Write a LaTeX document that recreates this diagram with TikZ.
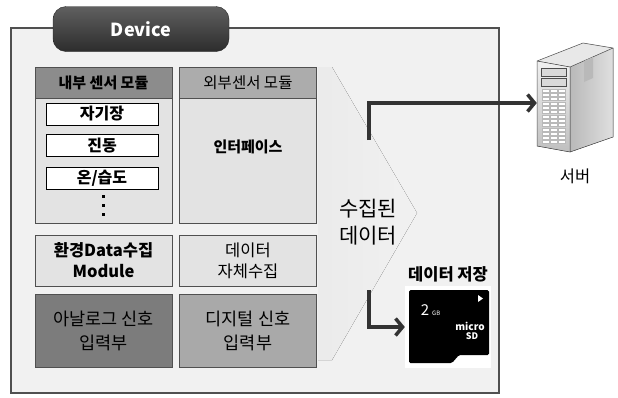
\documentclass[tikz,border=0pt]{standalone}
\usepackage{fontspec}
\setmainfont{Noto Sans CJK KR}
\usetikzlibrary{positioning, arrows.meta}

\definecolor{boxbg}{HTML}{F1F1F1}
\definecolor{framegray}{HTML}{505050}
\definecolor{headdark}{HTML}{8C8C8C}
\definecolor{headlight}{HTML}{ACACAC}
\definecolor{bodygray}{HTML}{E3E3E3}
\definecolor{analoggray}{HTML}{7C7C7C}
\definecolor{digitalgray}{HTML}{A9A9A9}
\definecolor{flowgray}{HTML}{333333}

\begin{document}
\begin{tikzpicture}[x=1pt, y=-1pt,
  every node/.style={inner sep=0pt, font=\fontsize{14}{22}\selectfont},
  panel/.style={draw=framegray, line width=0.8pt, minimum width=137pt, align=center},
  sensor/.style={draw=black, fill=white, line width=0.8pt, minimum width=112pt, minimum height=22pt, font=\fontsize{16}{16}\selectfont\bfseries},
  flow/.style={draw=flowgray, line width=3.5pt, -{Straight Barb[length=7pt,width=17pt]}}]
  \useasboundingbox (0,0) rectangle (618,397);

  % device frame and the data chevron
  \draw[fill=boxbg, draw=framegray, line width=2pt] (11,28) rectangle (499,393);
  \fill[left color=gray!16, right color=boxbg] (318,67) -- (332,67) -- (417,213) -- (332,360) -- (318,360) -- cycle;
  \node[draw=black!85, top color=gray!75!black, bottom color=gray!35!black, rounded corners=13pt,
    minimum width=176pt, minimum height=45pt, text=white, font=\fontsize{18}{20}\selectfont\bfseries] (device) at (141,29) {Device};

  % sensor modules
  \node[panel, fill=bodygray, minimum height=125pt] (inbody) at (103.5,160.5) {};
  \node[panel, fill=headdark, minimum height=31pt, font=\fontsize{15}{18}\selectfont\bfseries] (inhead) at (103.5,82.5) {내부 센서 모듈};
  \node[panel, fill=bodygray, minimum height=125pt] (exbody) at (248,160.5) {};
  \node[panel, fill=headlight, minimum height=31pt, font=\fontsize{15.5}{18}\selectfont] (exhead) at (248,82.5) {외부센서 모듈};
  \node[font=\fontsize{15}{18}\selectfont\bfseries] (iface) at (248,147) {인터페이스};

  \node[sensor] (mag) at (102,114) {자기장};
  \node[sensor] (vib) at (102,145.5) {진동};
  \node[sensor] (hum) at (102,178) {온/습도};
  \foreach \y in {196,205,214}
    \fill (101.5,\y-1.5) rectangle ++(3,3);

  % collection and input blocks
  \node[panel, fill=bodygray, minimum height=51pt, font=\fontsize{16.5}{21}\selectfont\bfseries] (envmod) at (103.5,260.5) {환경Data수집\\Module};
  \node[panel, fill=bodygray, minimum height=51pt, font=\fontsize{16.5}{21}\selectfont] (selfcol) at (248,260.5) {데이터\\자체수집};
  \node[panel, fill=analoggray, minimum height=73pt, font=\fontsize{17.5}{24}\selectfont] (analog) at (103.5,330.5) {아날로그 신호\\입력부};
  \node[panel, fill=digitalgray, minimum height=73pt, font=\fontsize{17.5}{24}\selectfont] (digital) at (248,330.5) {디지털 신호\\입력부};

  \node[align=center, font=\fontsize{21}{27}\selectfont] (data) at (368,222) {수집된\\데이터};

  % server
  \fill[left color=gray!55, right color=gray!25] (570,67) -- (613,48) -- (613,137) -- (570,152) -- cycle;
  \fill[gray!18] (537,61) -- (583,43) -- (613,48) -- (570,67) -- cycle;
  \fill[top color=gray!12, bottom color=gray!50] (537,61) -- (570,67) -- (570,152) -- (537,146) -- cycle;
  \draw[gray!60!black, line width=0.5pt] (537,61) -- (583,43) -- (613,48) -- (613,137) -- (570,152) -- (537,146) -- cycle
    (537,61) -- (570,67) -- (613,48) (570,67) -- (570,152);
  \draw[gray!60!black, fill=gray!30, line width=0.4pt] (541,68) rectangle (566,76) (541,78) rectangle (566,86);
  \foreach \r in {0,...,12}
    \foreach \c in {0,1,2}
      \draw[gray!55, fill=white, line width=0.3pt] (542+\c*8.3,89+\r*4.3) rectangle ++(7,3);
  \fill[gray!55] (584,61) -- (593,57) -- (593,78) -- (584,82) -- cycle;
  \node[minimum width=76pt, minimum height=120pt] (server) at (575,103) {};
  \node[font=\fontsize{16.5}{18}\selectfont] (srvlabel) at (575,176) {서버};

  % micro SD card
  \node[fill=white, minimum width=86pt, minimum height=82pt] (sd) at (448,327) {};
  \fill[black, rounded corners=1.5pt] (409,290) -- (489,290) -- (489,355) -- (459,355) -- (452,363) -- (409,363) -- cycle;
  \fill[white] (478,295) -- (483,298.5) -- (478,302) -- cycle;
  \node[text=white, font=\fontsize{15}{15}\selectfont] (cap) at (425,310) {2};
  \node[text=white, font=\fontsize{6}{6}\selectfont, anchor=base west] (unit) at (432,315) {GB};
  \node[text=white, font=\fontsize{10}{10}\selectfont\bfseries] (mlogo) at (470,326) {micro};
  \node[text=white, font=\fontsize{9}{9}\selectfont\bfseries\itshape] (slogo) at (472,336) {SD};
  \node[above=4pt of sd, font=\fontsize{16.5}{18}\selectfont\bfseries] (sdlabel) {데이터 저장};

  % data paths
  \coordinate (up0) at (369,140);
  \coordinate (down0) at (369,290);
  \draw[flow] (up0) |- (server.west);
  \draw[flow] (down0) |- (sd.west);
\end{tikzpicture}
\end{document}
